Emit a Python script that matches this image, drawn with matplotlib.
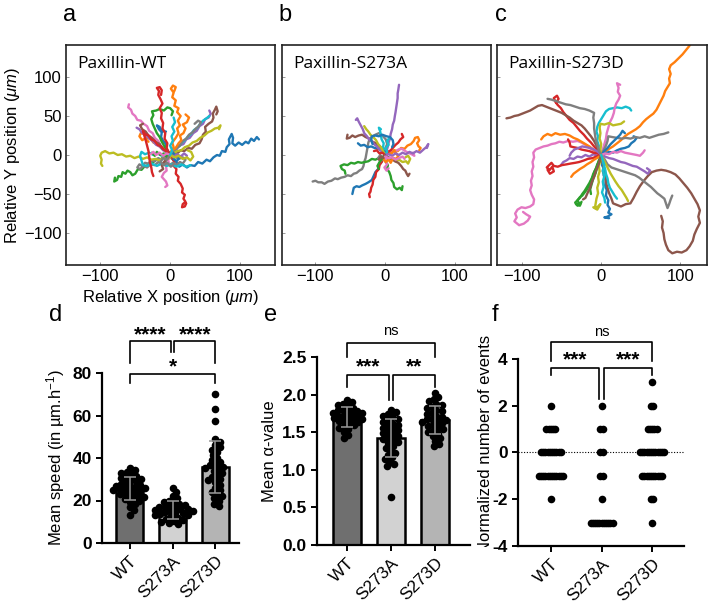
import numpy as np
import matplotlib
matplotlib.use("Agg")
import matplotlib.pyplot as plt
from matplotlib.transforms import Bbox, TransformedBbox

plt.rcParams['font.family'] = ['Liberation Sans', 'DejaVu Sans']
plt.rcParams['mathtext.fontset'] = 'custom'
plt.rcParams['mathtext.rm'] = 'Liberation Sans'
plt.rcParams['mathtext.it'] = 'Liberation Sans:italic'

# ---------------- data ----------------
# cell trajectories (um), listed in tab10 colour order:
# blue, orange, green, red, purple, brown, pink, gray, olive, cyan, blue, ...
tracks_wt = [
    [(0, -2), (4, -6), (9, -9), (13, -15), (18, -12), (24, -16), (29, -13), (35, -14), (40, -9), (46, -11), (52, -6), (57, -8), (62, -3), (67, 0), (71, -1), (74, 5), (79, 4), (81, 10), (85, 14), (84, 20), (88, 27), (90, 22), (89, 15), (93, 12), (98, 16), (103, 13), (108, 17), (112, 15), (116, 21), (120, 18), (124, 23), (127, 20)],
    [(1, 4), (5, 10), (3, 16), (8, 22), (12, 28), (10, 34), (14, 38), (11, 44), (15, 50), (10, 55), (12, 60), (6, 63), (8, 70), (3, 74), (5, 80), (1, 85), (4, 89), (8, 87), (6, 82)],
    [(0, 0), (-4, -3), (-9, -2), (-14, -6), (-19, -5), (-24, -9), (-28, -8), (-32, -13), (-37, -15), (-41, -19), (-46, -18), (-50, -24), (-54, -26), (-57, -22), (-61, -20), (-64, -24), (-68, -22), (-70, -28), (-74, -27), (-76, -32), (-80, -34), (-79, -29)],
    [(0, 0), (3, -4), (6, -9), (5, -14), (9, -18), (8, -24), (12, -28), (11, -33), (15, -37), (18, -43), (17, -48), (21, -51), (19, -56), (22, -60), (18, -63), (17, -67), (21, -66), (23, -62)],
    [(0, 0), (4, 5), (9, 7), (13, 12), (19, 14), (23, 20), (28, 22), (33, 28), (38, 31), (42, 37), (47, 40), (50, 46), (55, 48), (58, 53), (56, 57)],
    [(0, 0), (5, 3), (10, 2), (15, 6), (20, 5), (26, 9), (31, 8), (36, 13), (42, 15), (45, 20), (47, 26), (51, 30), (50, 36), (55, 40), (60, 43), (62, 48), (61, 53), (64, 58), (66, 62), (68, 56), (66, 52)],
    [(0, 0), (-5, 4), (-9, 9), (-14, 12), (-17, 18), (-22, 22), (-25, 28), (-30, 31), (-33, 37), (-38, 40), (-42, 44), (-47, 45), (-50, 50), (-54, 53), (-56, 58), (-60, 61), (-59, 65)],
    [(0, 0), (-4, -3), (-9, -2), (-13, -6), (-17, -4), (-22, -8), (-27, -7), (-31, -11), (-36, -10), (-40, -14), (-44, -12), (-47, -16), (-43, -18), (-38, -14), (-33, -16), (-28, -12), (-22, -13), (-17, -9), (-12, -12), (-6, -9), (-1, -13), (4, -10), (9, -13), (14, -9), (18, -11), (22, -6), (18, -3), (12, -5), (7, -2)],
    [(0, -4), (-5, -6), (-10, -4), (-15, -7), (-21, -5), (-27, -6), (-33, -3), (-39, -5), (-45, -2), (-51, -4), (-57, -1), (-63, -2), (-69, 1), (-75, 0), (-81, 3), (-87, 2), (-93, 5), (-98, 3), (-100, -1), (-98, -6), (-99, -11), (-97, -14)],
    [(0, 0), (4, 4), (8, 9), (13, 11), (17, 16), (21, 19), (26, 24), (30, 27), (34, 32), (39, 35), (43, 40), (47, 44), (52, 47), (56, 50)],
    [(0, 0), (-3, 5), (-7, 8), (-6, 14), (-10, 18), (-13, 23), (-12, 29), (-16, 33), (-19, 38), (-15, 36), (-12, 31), (-6, 30)],
    [(0, 0), (-5, 3), (-9, 8), (-14, 10), (-19, 14), (-24, 16), (-28, 21), (-33, 22), (-37, 27), (-42, 28), (-44, 24), (-40, 19), (-36, 21), (-31, 17)],
    [(0, 0), (-4, 6), (-8, 11), (-12, 17), (-15, 23), (-19, 28), (-22, 34), (-25, 40), (-27, 46), (-24, 51), (-26, 56), (-20, 57), (-15, 59), (-9, 57), (-4, 61), (0, 60), (4, 56), (2, 51)],
    [(-2, 3), (-5, 9), (-4, 15), (-8, 21), (-7, 28), (-11, 34), (-10, 41), (-13, 47), (-12, 54), (-15, 60), (-11, 66), (-14, 72), (-17, 77), (-16, 82), (-19, 86), (-15, 87), (-12, 83), (-13, 77)],
    [(0, 0), (-5, 4), (-10, 6), (-15, 11), (-20, 13), (-25, 18), (-30, 21), (-35, 26), (-40, 28), (-44, 33), (-48, 35)],
    [(0, 0), (-5, 5), (-11, 8), (-15, 14), (-21, 17), (-26, 22), (-31, 25), (-35, 30), (-40, 33), (-43, 38), (-39, 40)],
    [(0, 0), (-3, -5), (-2, -10), (-6, -14), (-5, -20), (-9, -23), (-12, -28), (-9, -31), (-6, -34), (-4, -39), (-7, -41)],
    [(0, 0), (5, 4), (9, 9), (14, 12), (18, 18), (23, 21), (27, 26), (32, 29), (37, 34), (41, 37), (44, 42), (40, 44), (35, 40)],
    [(0, 0), (5, 2), (10, 5), (16, 6), (21, 10), (27, 12), (32, 16), (38, 18), (43, 22), (49, 25), (54, 29), (59, 31), (64, 34), (69, 35), (72, 38), (70, 33)],
    [(0, 0), (-6, 1), (-12, -1), (-18, 2), (-24, 0), (-30, 3), (-36, 1), (-41, 4), (-43, -1), (-41, -7), (-39, -13), (-33, -14), (-26, -11), (-19, -14), (-12, -11), (-5, -14), (2, -12), (9, -15), (16, -12), (23, -15), (29, -13)],
    [(0, 0), (4, 3), (8, -1), (5, -5), (9, -8), (13, -4), (10, 0)],
    [(0, 0), (3, 6), (8, 9), (12, 15), (16, 19), (14, 25), (19, 28), (22, 34), (18, 39), (24, 42), (27, 48), (22, 52)],
    [(0, 0), (-5, -2), (-9, 2), (-14, 0), (-19, 4), (-22, -1), (-26, 3)],
    [(0, 0), (-4, 4), (-9, 7), (-13, 11), (-18, 13), (-22, 18), (-27, 20), (-31, 25), (-36, 27), (-39, 31), (-37, 25), (-35, 19), (-33, 12), (-31, 5), (-30, -2), (-29, -9), (-27, -16), (-26, -22), (-24, -27)],
    [(0, 0), (5, -2), (10, 1), (15, -2), (20, 2), (24, -1)],
    [(0, 0), (-4, -5), (-8, -8), (-12, -13), (-10, -18), (-15, -21)],
    [(0, 0), (-5, 2), (-10, -1), (-15, 3), (-20, 0), (-24, 4), (-28, 1)],
    [(0, 0), (-5, -6), (-10, -4), (-14, -9), (-9, -13), (-4, -10), (1, -15), (6, -11)],
    [(0, 0), (6, -3), (12, -1), (18, -5), (24, -3), (29, -7), (33, -2), (30, 4), (25, 6)],
    [(0, 0), (3, 6), (0, 12), (4, 18), (2, 24), (6, 30), (3, 36), (7, 42), (5, 48)],
]

tracks_s273a = [
    [(0, 0), (-3, -4), (-5, -9), (-9, -13), (-10, -18), (-14, -22), (-17, -28), (-19, -32), (-24, -35), (-28, -37), (-33, -39), (-37, -41), (-41, -40), (-45, -42), (-46, -46), (-47, -50)],
    [(0, 0), (4, 3), (9, 2), (13, 6), (18, 5), (23, 9), (28, 8), (32, 12), (37, 14), (41, 18), (43, 22), (47, 23), (49, 19), (46, 15), (48, 11), (51, 9), (49, 6)],
    [(0, 0), (2, -4), (1, -9), (4, -13), (3, -18), (6, -22), (8, -27), (9, -32), (12, -36), (13, -41), (17, -44), (21, -42), (24, -45), (25, -40)],
    [(0, 0), (-3, -5), (-5, -9), (-8, -13), (-9, -18), (-13, -22), (-14, -28), (-17, -32), (-18, -38), (-20, -42), (-21, -47), (-23, -50), (-22, -54)],
    [(0, 0), (2, 5), (4, 11), (5, 16), (7, 21), (8, 27), (10, 33), (11, 39), (13, 44), (14, 50), (15, 55), (16, 61), (17, 67), (18, 73), (18, 79), (19, 84), (20, 90)],
    [(0, 5), (-4, 8), (-9, 12), (-13, 15), (-18, 17), (-23, 21), (-28, 23), (-33, 26), (-38, 25), (-43, 23), (-47, 25), (-51, 22), (-55, 21), (-54, 26)],
    [(0, 0), (5, 2), (9, 5), (14, 4), (19, 7), (24, 8), (29, 5), (33, 3), (38, 1), (42, -1), (40, 3)],
    [(0, 8), (3, 14), (1, 20), (-4, 25), (-9, 28), (-14, 26), (-18, 24), (-22, 21), (-24, 16), (-25, 11), (-26, 6), (-27, 1), (-28, -4), (-30, -9), (-31, -14), (-33, -18), (-37, -20), (-41, -23), (-45, -24), (-49, -27), (-54, -26), (-58, -28), (-63, -29), (-68, -31), (-72, -30), (-77, -33), (-82, -34), (-87, -37), (-91, -35), (-96, -35), (-100, -33), (-104, -34)],
    [(0, -4), (5, -6), (10, -5), (15, -8), (20, -6), (25, -9), (30, -8), (33, -11), (36, -5), (33, -1), (29, -3)],
    [(0, 0), (-1, 5), (-3, 10), (-2, 15), (-5, 20), (-6, 25), (-7, 30), (-9, 35), (-6, 33)],
    [(0, 4), (-5, 6), (-10, 8), (-15, 9), (-20, 11), (-25, 10), (-30, 13), (-35, 12), (-39, 15)],
    [(0, 0), (4, 4), (9, 2), (13, 6), (16, 2), (19, -2), (15, -5), (10, -3)],
    [(0, 0), (-4, -3), (-9, -4), (-14, -6), (-19, -5), (-24, -8), (-29, -9), (-34, -10), (-39, -9), (-44, -11), (-49, -10), (-54, -13), (-59, -12), (-64, -14), (-62, -18), (-58, -20), (-57, -24)],
    [(0, 0), (4, 4), (8, 6), (12, 10), (15, 13), (19, 16), (22, 20), (26, 23), (24, 27)],
    [(0, 0), (-4, 4), (-8, 7), (-12, 11), (-16, 14), (-19, 18), (-23, 20), (-26, 24), (-30, 28), (-32, 33), (-35, 38), (-38, 43), (-40, 47), (-42, 45)],
    [(0, 0), (5, -3), (10, -5), (14, -8), (19, -10), (23, -14), (26, -18), (29, -20), (31, -24), (33, -27), (35, -24)],
    [(0, 0), (2, -4), (0, -8), (3, -12), (-1, -16), (2, -20), (5, -17)],
    [(0, 0), (-4, -3), (-7, 0), (-10, -4), (-6, -7), (-2, -5)],
    [(0, 0), (-3, 5), (-6, 10), (-10, 14), (-13, 19), (-17, 23), (-21, 26), (-24, 30), (-27, 33), (-30, 37)],
    [(0, 0), (3, 4), (1, 9), (5, 13), (3, 18), (6, 22)],
    [(-18, 14), (-20, 19), (-19, 24), (-14, 25), (-9, 24), (-4, 26), (2, 24), (7, 23), (11, 19), (12, 14), (10, 10)],
    [(0, 0), (-3, -5), (1, -9), (5, -6), (8, -10), (11, -5)],
    [(0, 0), (-4, -4), (-8, -9), (-11, -14), (-9, -18)],
    [(0, 0), (-4, 3), (-8, 2), (-12, 6), (-16, 5)],
    [(0, 0), (5, 1), (10, -1), (15, 2), (20, 0), (25, 3), (30, 1), (35, 4), (40, 2), (45, 5), (50, 3), (55, 7), (59, 10), (62, 14), (60, 9)],
    [(0, 0), (-3, -4), (-6, -2), (-9, -6)],
    [(0, -2), (5, -4), (10, -3), (15, -6), (20, -4), (25, -2), (28, -5)],
]

tracks_s273d = [
    [(0, 0), (2, -6), (1, -13), (4, -19), (3, -26), (6, -32), (5, -39), (7, -45), (6, -52), (9, -58), (8, -64), (11, -69), (9, -74), (13, -76), (8, -79), (4, -80), (10, -81)],
    [(0, 0), (5, 4), (10, 8), (15, 11), (20, 15), (25, 19), (30, 24), (34, 27), (39, 30), (44, 33), (49, 37), (53, 42), (57, 46), (62, 50), (66, 53), (70, 58), (73, 64), (76, 70), (79, 76), (81, 82), (84, 87), (87, 92), (86, 98), (88, 104), (86, 110), (88, 115), (93, 119), (98, 124), (103, 129), (107, 134), (111, 139), (115, 145)],
    [(0, 0), (-2, -6), (-5, -12), (-7, -18), (-10, -24), (-12, -30), (-15, -36), (-18, -41), (-21, -46), (-24, -50), (-27, -55), (-30, -58), (-28, -62), (-32, -63), (-27, -65), (-25, -60)],
    [(0, 0), (-4, 6), (-9, 11), (-13, 16), (-18, 21), (-22, 26), (-27, 31), (-31, 36), (-35, 41), (-40, 45), (-44, 50), (-48, 55), (-51, 60), (-55, 64), (-58, 68), (-60, 73), (-56, 76), (-54, 72), (-57, 67)],
    [(0, 0), (-5, -1), (-10, 1), (-15, -2), (-20, 0), (-25, -3), (-30, -2), (-35, -5), (-40, -4), (-44, -7), (-48, -9), (-51, -13)],
    [(0, 0), (1, -7), (3, -14), (2, -21), (5, -28), (6, -35), (8, -42), (10, -49), (13, -56), (15, -62), (20, -64), (25, -66), (31, -63), (37, -62), (41, -55), (45, -47), (49, -40), (54, -33), (59, -27), (64, -22), (70, -20), (76, -19), (82, -20), (88, -22), (94, -25), (99, -30), (104, -36), (109, -42), (114, -49), (118, -56), (122, -63), (125, -71), (123, -79), (125, -87), (121, -95), (118, -102), (116, -110), (112, -117), (108, -122), (102, -125), (96, -124), (90, -126), (85, -122), (82, -115), (80, -108), (79, -100), (77, -93), (78, -85), (76, -78)],
    [(0, 0), (-5, 3), (-10, 6), (-15, 9), (-20, 13), (-25, 16), (-30, 18), (-36, 17), (-42, 18), (-48, 16), (-53, 17), (-58, 15), (-63, 14), (-68, 12), (-73, 11), (-78, 9), (-83, 7), (-86, 3), (-85, -3), (-87, -9), (-86, -15), (-88, -21), (-87, -27), (-89, -33), (-88, -39), (-90, -45), (-88, -51), (-85, -57), (-86, -63), (-90, -66), (-96, -68), (-101, -67), (-106, -70), (-109, -75), (-107, -80), (-110, -85), (-104, -90), (-98, -88), (-93, -84), (-90, -79), (-95, -76), (-99, -73)],
    [(0, 0), (4, -5), (8, -12), (13, -16), (19, -18), (25, -20), (31, -22), (37, -24), (43, -26), (48, -29), (53, -33), (58, -37), (63, -41), (67, -45), (71, -49), (75, -52), (80, -56), (82, -62), (84, -68), (86, -63), (88, -57), (90, -52)],
    [(0, 0), (-1, -7), (-3, -14), (-2, -21), (-4, -28), (-3, -35), (-5, -42), (-4, -49), (-6, -56), (-7, -62), (-8, -68), (-4, -66), (-1, -63), (-5, -70), (-10, -67)],
    [(0, 0), (-2, 6), (-3, 12), (-5, 18), (-4, 24), (-6, 30), (-5, 36), (-3, 41), (0, 46), (3, 51), (6, 56), (10, 59), (15, 60), (20, 61), (26, 60), (31, 62), (36, 60), (38, 57)],
    [(0, 0), (5, 2), (10, 4), (15, 3), (20, 6), (25, 8), (30, 9), (35, 11), (38, 15), (42, 18), (45, 22), (41, 24)],
    [(0, 0), (-5, 4), (-10, 7), (-15, 11), (-20, 14), (-25, 17), (-30, 20), (-35, 22), (-40, 25), (-46, 27), (-52, 26), (-58, 28), (-63, 25), (-68, 27), (-73, 24), (-76, 20)],
    [(0, 0), (-3, -7), (-5, -14), (-8, -20), (-10, -27), (-13, -33), (-15, -39), (-18, -44), (-21, -48), (-24, -52), (-27, -54), (-30, -58), (-33, -61), (-30, -65), (-26, -62)],
    [(0, 0), (-6, -2), (-11, -4), (-17, -5), (-22, -7), (-28, -9), (-33, -10), (-39, -11), (-44, -12), (-50, -13), (-55, -15), (-60, -14), (-63, -10), (-66, -13), (-69, -16), (-65, -19), (-62, -15), (-60, -21), (-65, -24), (-68, -19)],
    [(0, 0), (5, -2), (10, -4), (15, -5), (20, -7), (25, -9), (30, -10), (35, -12), (40, -14), (45, -15), (50, -18), (55, -21), (59, -24), (62, -20), (58, -17)],
    [(0, 0), (-3, 6), (-6, 12), (-9, 18), (-13, 24), (-17, 29), (-21, 34), (-25, 38), (-30, 41), (-35, 44), (-40, 48), (-45, 51), (-50, 54), (-55, 56), (-60, 58), (-65, 60), (-70, 62), (-75, 64), (-80, 63), (-85, 60), (-90, 57), (-95, 55), (-100, 53), (-105, 51), (-110, 50), (-115, 48), (-120, 47)],
    [(0, 0), (2, 7), (4, 14), (6, 21), (7, 28), (9, 35), (11, 42), (14, 48), (16, 54), (17, 60), (19, 66), (22, 71), (24, 76), (21, 81), (22, 86), (20, 92), (24, 90)],
    [(0, 0), (3, 6), (6, 12), (8, 18), (9, 24), (14, 23), (20, 22), (26, 21), (31, 22), (37, 21), (43, 23), (49, 22), (55, 24), (61, 22), (67, 24), (73, 26), (79, 27), (85, 29)],
    [(0, 0), (-1, 7), (0, 14), (-2, 21), (-1, 28), (-2, 35), (-1, 40), (4, 39), (10, 41), (15, 38), (20, 39), (25, 40), (29, 43)],
    [(0, 0), (2, -6), (3, -12), (5, -18), (6, -24), (8, -30), (9, -36), (11, -42), (14, -47), (17, -52), (20, -56)],
    [(0, 0), (4, 5), (8, 9), (12, 14), (16, 18), (20, 22), (24, 26), (27, 31), (30, 28)],
    [(0, 0), (-4, -3), (-9, -6), (-13, -9), (-18, -12), (-22, -15), (-27, -18), (-31, -21), (-35, -24), (-38, -28)],
    [(0, 0), (-2, -8), (-5, -15), (-7, -23), (-10, -30), (-12, -37), (-14, -44), (-13, -50)],
    [(0, 0), (-5, 2), (-10, 3), (-15, 5), (-20, 6), (-25, 7), (-30, 9), (-35, 10), (-39, 11), (-40, 16), (-42, 20)],
    [(0, 0), (-4, 4), (-9, 7), (-14, 9), (-19, 10), (-24, 11), (-29, 9), (-34, 7), (-38, 3), (-40, -1)],
    [(0, 0), (-2, -7), (-4, -14), (-7, -21), (-9, -28), (-12, -35), (-14, -42), (-17, -48), (-20, -55), (-23, -57)],
    [(0, 0), (5, 2), (10, 1), (15, 4), (20, 3), (25, 5), (30, 3), (35, 2), (40, 1), (45, 0), (49, -1), (53, 3), (55, 6)],
    [(0, 0), (-3, 6), (-5, 13), (-7, 20), (-8, 27), (-9, 34), (-9, 41), (-10, 48), (-9, 54), (-15, 57), (-21, 59), (-27, 60), (-33, 62), (-39, 64), (-45, 65), (-51, 67), (-57, 69), (-63, 71), (-68, 72)],
    [(0, 0), (3, -6), (6, -12), (9, -18), (12, -24), (15, -29), (18, -34), (22, -40), (26, -45), (29, -50), (32, -55), (34, -59)],
    [(0, 0), (2, -6), (4, -13), (2, -20), (4, -27), (2, -34), (3, -41), (1, -48), (4, -55), (5, -61)],
]

groups = ["WT", "S273A", "S273D"]

speed_wt = [35.5, 34.5, 33.5, 33, 32, 31.5, 31, 30.5, 30, 29.5, 29, 28.5, 28, 27.5, 27, 27, 26.5, 26, 26,
            25.5, 25, 25, 24.5, 24, 23.5, 23, 22.5, 22, 21.5, 21, 20.5, 20, 19.5, 18.5, 17, 15.5, 13]
speed_s273a = [26, 24, 22, 21, 20, 19.5, 19, 18.5, 18, 17.5, 17, 17, 16.5, 16, 16, 15.5, 15, 15, 14.5, 14,
               14, 13.5, 13, 13, 12.5, 12, 11.5, 11, 10.5, 10, 9.5, 9]
speed_s273d = [70, 63, 57.5, 49, 47.5, 46, 45, 44, 43, 41.5, 40, 39, 38, 37, 36.5, 36, 35.5, 35, 34, 33, 32,
               31, 30, 29.5, 28.5, 27.5, 26, 25, 24, 23, 22, 21, 20, 18.5, 17.5]

alpha_wt = [1.93, 1.90, 1.88, 1.86, 1.84, 1.82, 1.80, 1.79, 1.78, 1.77, 1.76, 1.75, 1.74, 1.73, 1.72, 1.71,
            1.70, 1.69, 1.68, 1.67, 1.66, 1.65, 1.64, 1.62, 1.60, 1.58, 1.56, 1.54, 1.50, 1.46, 1.42]
alpha_s273a = [1.80, 1.77, 1.74, 1.72, 1.70, 1.68, 1.66, 1.64, 1.62, 1.60, 1.58, 1.56, 1.55, 1.53, 1.51, 1.49,
               1.47, 1.45, 1.43, 1.41, 1.39, 1.37, 1.35, 1.32, 1.29, 1.26, 1.23, 1.20, 1.17, 1.14, 1.11, 1.08,
               1.05, 0.64]
alpha_s273d = [2.02, 1.97, 1.94, 1.91, 1.88, 1.86, 1.84, 1.82, 1.80, 1.78, 1.76, 1.74, 1.72, 1.70, 1.68, 1.67,
               1.66, 1.65, 1.64, 1.62, 1.60, 1.58, 1.56, 1.54, 1.52, 1.50, 1.48, 1.45, 1.42, 1.38, 1.34, 1.31]

# normalized number of events: level -> number of cells
events_levels = [3, 2, 1, 0, -1, -2, -3]
events_wt = [0, 1, 5, 10, 12, 1, 0]
events_s273a = [0, 1, 2, 2, 2, 1, 11]
events_s273d = [1, 2, 5, 12, 10, 2, 1]

# ---------------- figure ----------------
fig = plt.figure(figsize=(7.08, 6.04), dpi=100)
W, H = 708, 604


def px_axes(x0, x1, y0, y1):
    return fig.add_axes([x0 / W, 1 - y1 / H, (x1 - x0) / W, (y1 - y0) / H])


def draw_tracks(ax, tracks, title, xlim):
    for tr in tracks:
        arr = np.array(tr, dtype=float)
        ax.plot(arr[:, 0], arr[:, 1], lw=1.7, solid_capstyle='round', solid_joinstyle='round')
    ax.set_xlim(*xlim)
    ax.set_ylim(-141, 141)
    ax.set_xticks([-100, 0, 100])
    ax.set_yticks([-100, -50, 0, 50, 100])
    ax.tick_params(direction='in', length=2.5, width=0.6, color='#888888', labelsize=12, pad=3)
    for s in ax.spines.values():
        s.set_linewidth(1.2)
        s.set_color('#222222')
    ax.text(0.055, 0.915, title, transform=ax.transAxes, fontsize=12.5,
            family='Open Sans', va='center', ha='left')


ax_a = px_axes(66, 275, 45, 265)
draw_tracks(ax_a, tracks_wt, "Paxillin-WT", (-149, 150))
ax_a.set_ylabel(r"Relative Y position ($\mu m$)", fontsize=12, labelpad=2)
ax_a.set_xlabel(r"Relative X position ($\mu m$)", fontsize=12, labelpad=3)

ax_b = px_axes(282, 491, 45, 265)
draw_tracks(ax_b, tracks_s273a, "Paxillin-S273A", (-148, 152))
ax_b.tick_params(labelleft=False)

ax_c = px_axes(497, 707, 45, 265)
draw_tracks(ax_c, tracks_s273d, "Paxillin-S273D", (-132, 134))
ax_c.tick_params(labelleft=False)

bar_colors = ['#6f6f6f', '#d2d2d2', '#b4b4b4']
xpos = np.arange(3)


def swarm(ax, xc, vals, gap):
    vals = np.asarray(vals, dtype=float)
    pts = ax.transData.transform(np.column_stack([np.full(len(vals), xc), vals]))
    ys = pts[:, 1]
    pxx = ax.transData.transform([(1, 0)])[0, 0] - ax.transData.transform([(0, 0)])[0, 0]
    cands = [0.0] + [s * k * 0.4 for k in range(1, 300) for s in (1, -1)]
    placed = []
    offs = np.zeros(len(vals))
    for i in np.argsort(-ys):
        for dx in cands:
            if all((dx - p) ** 2 + (ys[i] - q) ** 2 >= gap ** 2 for p, q in placed):
                break
        placed.append((dx, ys[i]))
        offs[i] = dx / pxx
    return xc + offs


def style_bottom(ax, ylabel, yticks, fmt):
    for s in ['top', 'right']:
        ax.spines[s].set_visible(False)
    for s in ['left', 'bottom']:
        ax.spines[s].set_linewidth(1.6)
    ax.tick_params(width=1.4, length=4)
    ax.set_yticks(yticks)
    ax.set_yticklabels([fmt.format(v) for v in yticks], fontsize=12.5, fontweight='bold')
    ax.set_xticks(xpos)
    ax.set_xticklabels(groups, rotation=45, ha='right', rotation_mode='anchor', fontsize=12.5)
    ax.set_ylabel(ylabel, fontsize=12)


def bracket(ax, x0, x1, y, y0, y1):
    ax.plot([x0, x0, x1, x1], [y0, y, y, y1], color='k', lw=1.2, clip_on=False)


def bar_panel(ax, data, xlim, ylim):
    ax.set_xlim(*xlim)
    ax.set_ylim(*ylim)
    means = [np.mean(d) for d in data]
    sds = [np.std(d, ddof=1) for d in data]
    ax.bar(xpos, means, width=0.63, color=bar_colors, edgecolor='black', linewidth=1.8, zorder=2)
    for i, d in enumerate(data):
        xs = swarm(ax, xpos[i], d, 5.2)
        ax.scatter(xs, d, s=30, color='black', zorder=3, linewidths=0)
    ax.errorbar(xpos, means, yerr=sds, fmt='none', ecolor='#9a9a9a', elinewidth=1.1,
                capsize=4, capthick=1.1, zorder=4)


star_kw = dict(ha='center', va='center', fontsize=15, fontweight='bold', clip_on=False)

# d
ax_d = px_axes(102, 239, 373, 543)
bar_panel(ax_d, [speed_wt, speed_s273a, speed_s273d], (-0.65, 2.55), (0, 80))
style_bottom(ax_d, r"Mean speed (in µm.h$^{\mathregular{-1}}$)", [0, 20, 40, 60, 80], "{:g}")
bracket(ax_d, 0, 0.96, 95, 84.7, 89.9)
bracket(ax_d, 1.04, 2, 95, 89.9, 84.7)
bracket(ax_d, 0, 2, 79.5, 75.3, 75.3)
ax_d.text(0.48, 98.0, "****", **star_kw)
ax_d.text(1.52, 98.0, "****", **star_kw)
ax_d.text(1.0, 83.0, "*", **star_kw)

# e
ax_e = px_axes(317, 470, 357, 545)
bar_panel(ax_e, [alpha_wt, alpha_s273a, alpha_s273d], (-0.68, 2.8), (0, 2.5))
style_bottom(ax_e, "Mean α-value", [0.0, 0.5, 1.0, 1.5, 2.0, 2.5], "{:.1f}")
bracket(ax_e, 0, 2, 2.69, 2.5, 2.5)
ax_e.text(1.0, 2.84, "ns", ha='center', va='center', fontsize=10.5, clip_on=False)
bracket(ax_e, 0, 0.96, 2.26, 2.10, 1.93)
bracket(ax_e, 1.04, 2, 2.26, 1.93, 2.10)
ax_e.text(0.48, 2.37, "***", **star_kw)
ax_e.text(1.52, 2.37, "**", **star_kw)

# f
ax_f = px_axes(518, 684, 359, 546)
ax_f.set_xlim(-0.65, 2.63)
ax_f.set_ylim(-4, 4)
ax_f.axhline(0, color='black', lw=0.8, ls=(0, (1, 1.5)), zorder=1)
pxx_f = ax_f.transData.transform([(1, 0)])[0, 0] - ax_f.transData.transform([(0, 0)])[0, 0]
step = 2.2 / pxx_f
for i, counts in enumerate([events_wt, events_s273a, events_s273d]):
    for lev, n in zip(events_levels, counts):
        if n == 0:
            continue
        xs = xpos[i] + (np.arange(n) - (n - 1) / 2) * step
        ax_f.scatter(xs, np.full(n, lev), s=30, color='black', zorder=3, linewidths=0)
style_bottom(ax_f, "Normalized number of events", [-4, -2, 0, 2, 4], "{:d}")
ax_f.yaxis.set_label_coords(-0.15, 0.545)
ax_f.yaxis.label.set_clip_box(TransformedBbox(Bbox([[0, 1 - 547 / H], [1, 1]]), fig.transFigure))
ax_f.yaxis.label.set_clip_on(True)
bracket(ax_f, 0, 2, 4.73, 3.93, 3.93)
ax_f.text(1.0, 5.15, "ns", ha='center', va='center', fontsize=10.5, clip_on=False)
bracket(ax_f, 0, 0.96, 3.62, 3.3, 2.3)
bracket(ax_f, 1.04, 2, 3.62, 2.3, 3.3)
ax_f.text(0.48, 3.95, "***", **star_kw)
ax_f.text(1.52, 3.95, "***", **star_kw)

# panel letters
for lab, x, y in [("a", 70, 15), ("b", 285, 15), ("c", 501, 15),
                  ("d", 56, 315), ("e", 271, 315), ("f", 495, 315)]:
    fig.text(x / W, 1 - y / H, lab, fontsize=17, ha='center', va='center')

fig.savefig("out.png", dpi=100)
